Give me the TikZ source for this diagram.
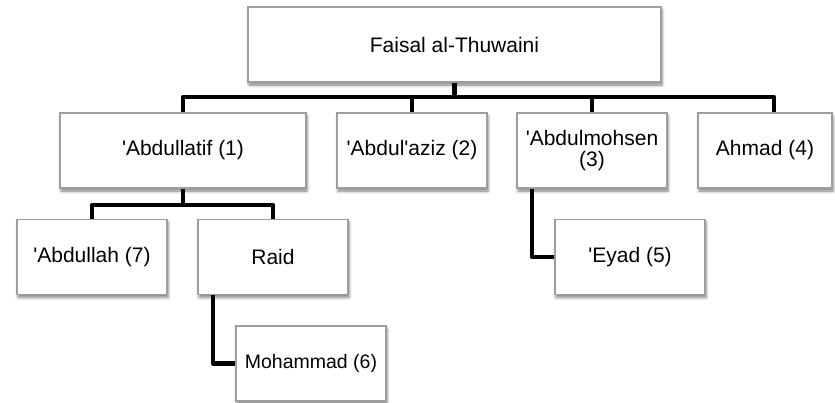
\documentclass[tikz,border=0pt]{standalone}
\usepackage{fontspec}
\setmainfont{Liberation Sans}
\usetikzlibrary{shadows.blur}

\tikzset{
	person/.style = {draw = black!38, line width = 1.2pt, fill = white, minimum width = 150pt, minimum height = 75pt, inner sep = 0pt, align = center, font = \fontsize{21}{20.5}\selectfont, blur shadow = {shadow xshift = 1pt, shadow yshift = -3pt, shadow blur radius = 3pt, shadow opacity = 50}},
	link/.style = {line width = 4.5pt, line join = round}
}

\begin{document}
\begin{tikzpicture}[x = 1pt, y = -1pt]
		\useasboundingbox (0,0) rectangle (835,402);
		\node[person, minimum width = 413pt] (faisal) at (454.5,44.5) {Faisal al-Thuwaini};
		\node[person, minimum width = 246pt] (abdullatif) at (183,150.5) {\textquotesingle Abdullatif (1)};
		\node[person] (abdulaziz) at (412,150.5) {\textquotesingle Abdul\textquotesingle aziz (2)};
		\node[person] (abdulmohsen) at (592,150.5) {\textquotesingle Abdulmohsen\\(3)};
		\node[person, minimum width = 134pt] (ahmad) at (765,150.5) {Ahmad (4)};
		\node[person] (abdullah) at (92,257) {\textquotesingle Abdullah (7)};
		\node[person] (raid) at (273,257) {Raid};
		\node[person] (eyad) at (630,257) {\textquotesingle Eyad (5)};
		\node[person, font = \fontsize{19.5}{18}\selectfont] (mohammad) at (311,363.5) {Mohammad (6)};
		\coordinate (fork) at (454.5,97);
		\coordinate (forkb) at (183,205);
		\draw[link] (faisal.south) -- (fork);
		\draw[link] (fork) -| (abdullatif.north);
		\draw[link] (fork) -| (abdulaziz.north);
		\draw[link] (fork) -| (abdulmohsen.north);
		\draw[link] (fork) -| ([xshift = 9pt]ahmad.north);
		\draw[link] (abdullatif.south) -- (forkb);
		\draw[link] (forkb) -| (abdullah.north);
		\draw[link] (forkb) -| (raid.north);
		\draw[link] ([xshift = -60pt]raid.south) |- (mohammad.west);
		\draw[link] ([xshift = -60pt]abdulmohsen.south) |- (eyad.west);
	\end{tikzpicture}
\end{document}
